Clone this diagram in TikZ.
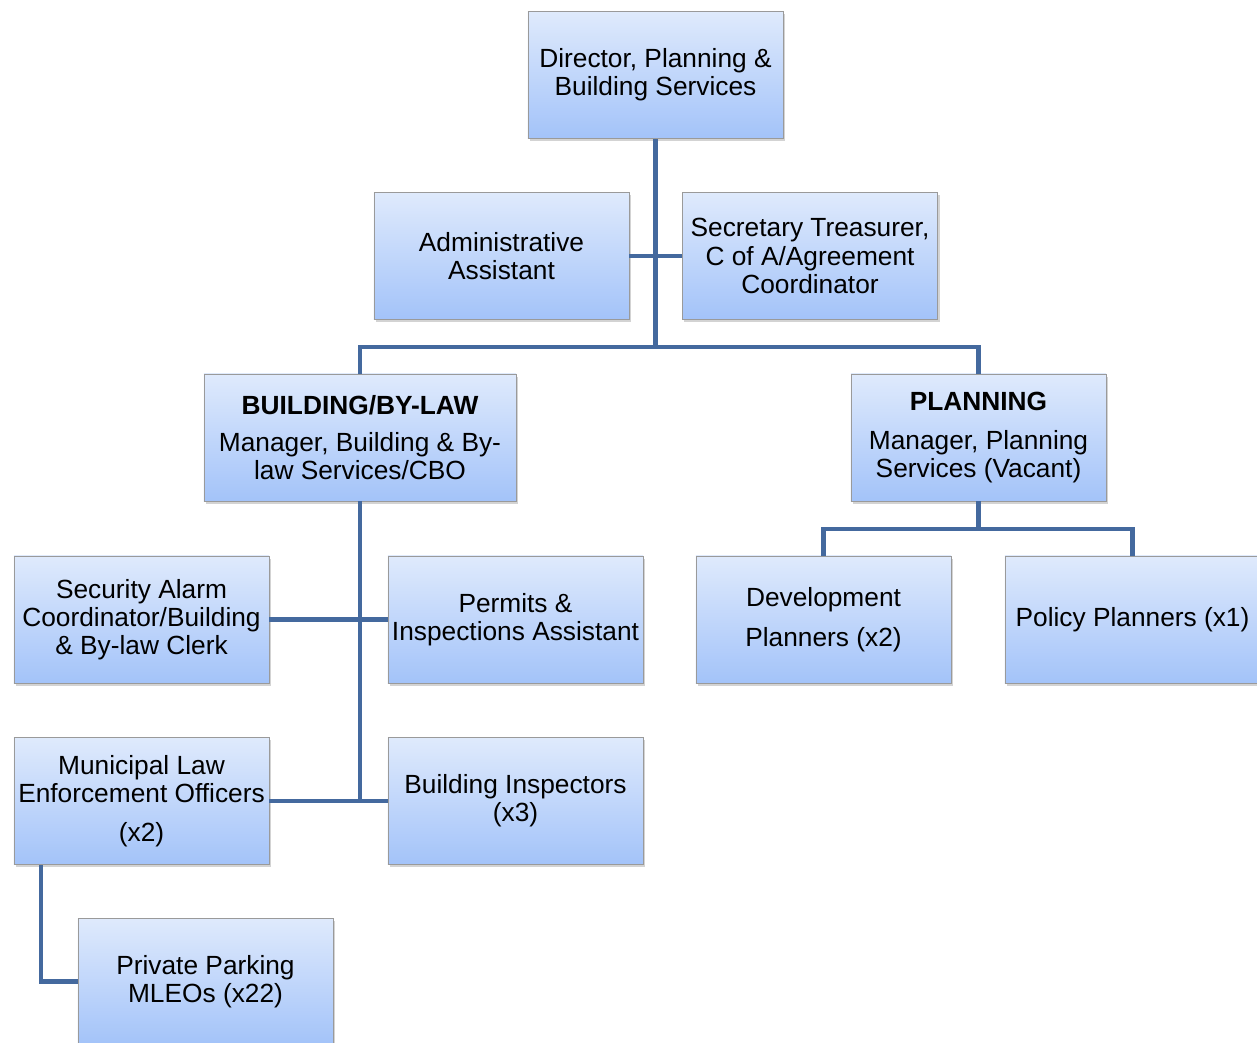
\documentclass[tikz,border=0pt]{standalone}
\usepackage{fontspec}
\setmainfont{Liberation Sans}
\usepackage{tikz}
\usetikzlibrary{shadings,shadows}
\definecolor{boxtop}{HTML}{DFEAFC}
\definecolor{boxbot}{HTML}{A3C3F9}
\definecolor{boxline}{HTML}{9A9A9A}
\definecolor{linkblue}{HTML}{44699E}
\tikzset{
  orgbox/.style={rectangle, draw=boxline, line width=0.6pt, top color=boxtop, bottom color=boxbot,
    minimum width=6.375cm, minimum height=3.175cm, align=center, inner sep=1pt,
    font=\fontsize{18.7}{20}\selectfont,
    drop shadow={opacity=0.35, shadow xshift=1.4pt, shadow yshift=-1.8pt}},
  link/.style={draw=linkblue, line width=2.9pt}
}
\newcommand{\orgnode}[3] {\node at (#1) (#2) [orgbox] {#3};}

\begin{document}
\begin{tikzpicture}[x=0.025cm, y=-0.025cm]
\useasboundingbox (0,0) rectangle (1257,1042);

\orgnode {655.5,75} {dir} {Director, Planning \&\\Building Services};
\orgnode {501.5,256} {adm} {Administrative\\Assistant};
\orgnode {810,256} {sec} {Secretary Treasurer,\\C of A/Agreement\\Coordinator};
\node at (360,437.5) (bld) [orgbox, minimum width=7.8cm] {\textbf{BUILDING/BY-LAW}\\[6pt]Manager, Building \& By-\\law Services/CBO};
\orgnode {978.5,437.5} {pln} {\textbf{PLANNING}\\[8pt]Manager, Planning\\Services (Vacant)};
\orgnode {141.5,619.5} {sac} {Security Alarm\\Coordinator/Building\\\& By-law Clerk};
\orgnode {515.5,619.5} {pia} {Permits \&\\Inspections Assistant};
\orgnode {823.5,619.5} {dev} {Development\\[8pt]Planners (x2)};
\orgnode {1132.5,619.5} {pol} {Policy Planners (x1)};
\orgnode {141.5,801} {mleo} {Municipal Law\\Enforcement Officers\\[8pt](x2)};
\orgnode {515.5,801} {insp} {Building Inspectors\\(x3)};
\orgnode {205.5,981.5} {ppk} {Private Parking\\MLEOs (x22)};

\coordinate (bus) at (655.5,347);
\coordinate (bldend) at (360,801);
\coordinate (plnbus) at (978.5,529);

\draw [link] (dir.south) -- (bus);
\draw [link] (adm.east) -- (sec.west);
\draw [link] (bld.north) |- (bus) -| (pln.north);
\draw [link] (bld.south) -- (bldend);
\draw [link] (sac.east) -- (pia.west);
\draw [link] (mleo.east) -- (insp.west);
\draw [link] (pln.south) -- (plnbus);
\draw [link] (dev.north) |- (plnbus) -| (pol.north);
\draw [link] ([xshift=0.675cm]mleo.south west) |- (ppk.west);

%\node at (600,1000) {};
\end{tikzpicture}
\end{document}
